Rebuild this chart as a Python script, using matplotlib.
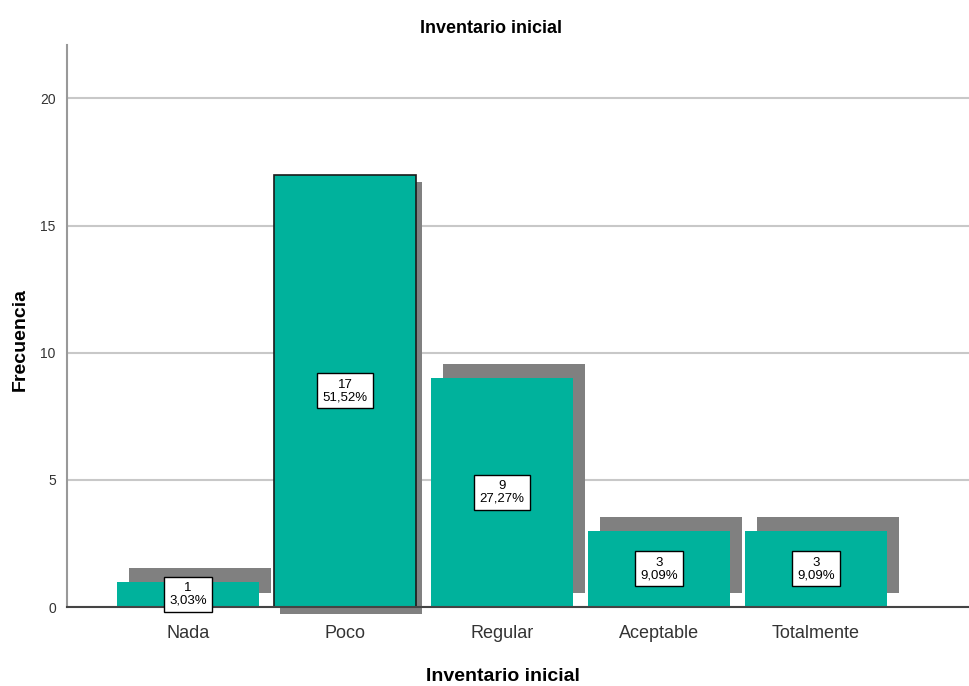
import matplotlib.pyplot as plt
from matplotlib.transforms import ScaledTranslation
import numpy as np

# datos
categorias = ["Nada", "Poco", "Regular", "Aceptable", "Totalmente"]
frecuencias = [1, 17, 9, 3, 3]
titulo = "Inventario inicial"

total = sum(frecuencias)
porcentajes = [100 * f / total for f in frecuencias]

plt.rcParams['font.family'] = ['Liberation Sans', 'DejaVu Sans']

verde = "#00B29C"
sombra = "#808080"

fig = plt.figure(figsize=(9.7, 6.86), dpi=100)
ax = fig.add_axes([0.069, 0.115, 0.931, 0.8195])

x = np.arange(len(categorias))
ancho = 0.9

# sombras (desplazadas en pixeles)
for i, f in enumerate(frecuencias):
    if i == 1:
        dx, dy = 6, -7
    else:
        dx, dy = 12, 14
    tr = ax.transData + ScaledTranslation(dx / 100, dy / 100, fig.dpi_scale_trans)
    ax.bar(x[i], f, width=ancho, color=sombra, transform=tr, clip_on=False, zorder=2)

barras = ax.bar(x, frecuencias, width=ancho, color=verde, zorder=3)
barras[1].set_edgecolor("#1a1a1a")
barras[1].set_linewidth(1.2)

# etiquetas con frecuencia y porcentaje
for i, (f, p) in enumerate(zip(frecuencias, porcentajes)):
    txt = "%d\n%s%%" % (f, ("%.2f" % p).replace(".", ","))
    ax.text(x[i], f / 2, txt, ha="center", va="center", fontsize=9.5, linespacing=1.05,
            zorder=5, bbox=dict(boxstyle="square,pad=0.4", fc="white", ec="black", lw=1))

ax.set_xlim(-0.77, 4.98)
ax.set_ylim(0, 22.1)
ax.set_yticks([0, 5, 10, 15, 20])
ax.set_xticks(x)
ax.set_xticklabels(categorias, fontsize=13, color="#333333")
ax.tick_params(axis="y", labelsize=10, length=0, pad=8, labelcolor="#333333")
ax.tick_params(axis="x", length=0, pad=13)
ax.yaxis.grid(True, color="#c8c8c8", lw=1.5, zorder=0)
ax.set_axisbelow(True)

for s in ["top", "right"]:
    ax.spines[s].set_visible(False)
ax.spines["left"].set_color("#999999")
ax.spines["left"].set_linewidth(1.5)
ax.spines["bottom"].set_color("#444444")
ax.spines["bottom"].set_linewidth(1.5)
ax.spines["bottom"].set_zorder(4)

fig.text(0.506, 0.958, titulo, ha="center", va="center", fontsize=13, fontweight="bold")
fig.text(0.518, 0.014, titulo, ha="center", va="center", fontsize=14, fontweight="bold")
fig.text(0.021, 0.505, "Frecuencia", ha="center", va="center", rotation=90,
         fontsize=14, fontweight="bold")

fig.savefig("out.png", dpi=100)
